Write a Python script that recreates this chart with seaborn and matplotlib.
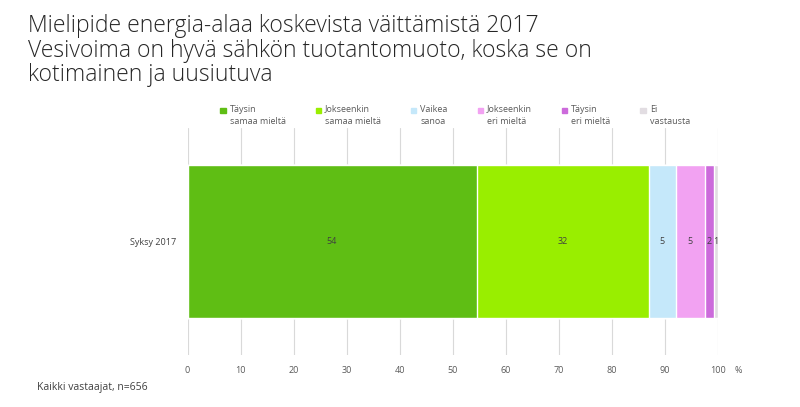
import numpy as np
import pandas as pd
import matplotlib.pyplot as plt
import matplotlib.patches as mpatches
from matplotlib.legend_handler import HandlerPatch
import seaborn as sns

# data
periods = ["Syksy 2017"]
answers = ["Täysin\nsamaa mieltä", "Jokseenkin\nsamaa mieltä", "Vaikea\nsanoa",
           "Jokseenkin\neri mieltä", "Täysin\neri mieltä", "Ei\nvastausta"]
values = [54.45, 32.45, 5.1, 5.4, 1.8, 0.8]
colors = ["#5fbe14", "#99ee00", "#c5e8fa", "#f2a2f2", "#cc6adb", "#e2dde2"]
x_ticks = [0, 10, 20, 30, 40, 50, 60, 70, 80, 90, 100]

title = ("Mielipide energia-alaa koskevista väittämistä 2017\n"
         "Vesivoima on hyvä sähkön tuotantomuoto, koska se on\n"
         "kotimainen ja uusiutuva")
note = "Kaikki vastaajat, n=656"

sns.set_theme(style="white")
plt.rcParams["font.family"] = ["Open Sans", "DejaVu Sans"]

fig = plt.figure(figsize=(8, 4.07), dpi=100)
ax = fig.add_axes([0.2344, 0.128, 0.6635, 0.557])

cum = np.cumsum(values)
df = pd.DataFrame({"answer": answers, "value": values, "cum": cum,
                   "period": periods[0]})

# stacked bar: draw cumulative bars back to front
for i in range(len(answers) - 1, -1, -1):
    sns.barplot(data=df.iloc[[i]], x="cum", y="period", color=colors[i],
                width=0.674, saturation=1, ax=ax, orient="h")

for i, row in df.iterrows():
    ax.text(row["cum"] - row["value"] / 2, 0, f"{row['value']:.0f}",
            ha="center", va="center", fontsize=6.5, color="#404040")

ax.set_xlim(0, 100)
ax.set_ylim(0.5, -0.5)
ax.set_xticks(x_ticks)
ax.set_xticklabels([str(t) for t in x_ticks])
ax.xaxis.grid(True, color="#d9d9d9", linewidth=0.8)
ax.set_axisbelow(True)
for s in ax.spines.values():
    s.set_visible(False)
ax.tick_params(axis="x", colors="#595959", labelsize=6.5, length=0, pad=8)
ax.tick_params(axis="y", colors="#404040", labelsize=6.5, length=0, pad=8)
ax.set_xlabel("")
ax.set_ylabel("")
ax.annotate("%", xy=(1, 0), xycoords="axes fraction", xytext=(14, -8),
            textcoords="offset points", fontsize=6.5, color="#595959",
            ha="center", va="top")


# legend marker next to the first line of the label
def top_square(legend, orig_handle, xdescent, ydescent, width, height, fontsize):
    s = 0.6 * fontsize
    return mpatches.Rectangle((-xdescent, -ydescent + height - s + 0.6), s, s)


handles = [mpatches.Patch(color=c, label=a) for a, c in zip(answers, colors)]
leg = fig.legend(handles=handles, ncol=6, loc="upper left",
                 bbox_to_anchor=(0.271, 0.752), frameon=False, fontsize=6.5,
                 handlelength=0.7, handleheight=2.0, handletextpad=0.35,
                 columnspacing=3.3, labelcolor="#595959", borderaxespad=0,
                 handler_map={mpatches.Patch: HandlerPatch(patch_func=top_square)})
for t in leg.get_texts():
    t.set_linespacing(1.45)

fig.text(0.035, 0.965, title, fontsize=16.5, color="#262626", va="top",
         ha="left", linespacing=1.03, fontweight="light")
fig.text(0.046, 0.048, note, fontsize=7.5, color="#404040", ha="left", va="center")

fig.savefig("out.png", dpi=100)
